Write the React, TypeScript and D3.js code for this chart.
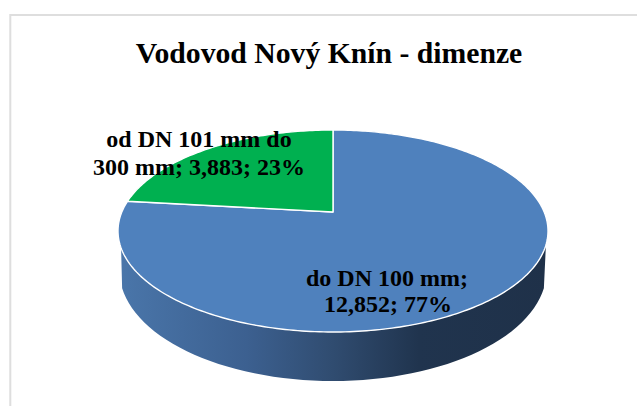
import React from 'react';
import * as d3 from 'd3';

const categories = ['do DN 100 mm', 'od DN 101 mm do 300 mm'];
const values = [12852, 3883];
const valueLabels = ['12,852', '3,883'];
const percentLabels = ['77%', '23%'];
const colors = ['#4f81bd', '#00b050'];
const wallStops = [
  { offset: '0%', color: '#4a76aa' },
  { offset: '30%', color: '#3c6090' },
  { offset: '50%', color: '#304c70' },
  { offset: '70%', color: '#20344e' },
  { offset: '100%', color: '#1f3149' },
];

const width = 637;
const height = 406;
const cx = 333;
const apexY = 212;
const topFar = 82; // far edge above the apex
const topNear = 120; // near edge under the apex
const rx = 215;

// perspective of the tilted disc
const q = (topNear - topFar) / (topNear + topFar);
const ay = topFar * (1 + q);
const bx = rx * Math.sqrt(1 - q * q);
const project = (a: number): [number, number] => {
  const u = Math.sin(a);
  const v = -Math.cos(a);
  const w = 1 - q * v;
  return [cx + (bx * u) / w, apexY + (ay * v) / w];
};

const pie = d3.pie<number>().sort(null);
const arcs = pie(values);
const line = d3.line();

const slicePath = (start: number, end: number) => {
  const n = Math.ceil((end - start) * 60);
  const pts = d3.range(n + 1).map((i) => project(start + ((end - start) * i) / n));
  return line([[cx, apexY], ...pts]) + 'Z';
};

// side wall: from the rim down to a slightly narrower lower ellipse
const wallCy = 271;
const wallRx = 213.5;
const wallRy = 110;
const wallPath = () => {
  const rimStart = 1.895;
  const rimEnd = 4.359;
  const rim = d3.range(61).map((i) => project(rimStart + ((rimEnd - rimStart) * i) / 60));
  const low = d3
    .range(61)
    .map((i): [number, number] => {
      const a = Math.PI * 0.55 + (Math.PI * 0.9 * i) / 60;
      return [cx + wallRx * Math.sin(a), wallCy - wallRy * Math.cos(a)];
    })
    .reverse();
  return line([...rim, ...low]) + 'Z';
};

const App = () => (
  <svg
    width={width}
    height={height}
    style={{ position: 'absolute', left: 0, top: 0 }}
    fontFamily="'Liberation Serif', serif"
    fontWeight="bold"
  >
    <defs>
      <linearGradient id="wall" gradientUnits="userSpaceOnUse" x1={118} x2={548} y1={0} y2={0}>
        {wallStops.map((s) => (
          <stop key={s.offset} offset={s.offset} stopColor={s.color} />
        ))}
      </linearGradient>
    </defs>
    <rect width={width} height={height} fill="#fff" />
    <path d="M10.3 406V15H637" fill="none" stroke="#dedede" strokeWidth={2} />
    <text x={329} y={63} textAnchor="middle" fontSize={29.7}>
      Vodovod Nový Knín - dimenze
    </text>
    <path d={wallPath()} fill="url(#wall)" />
    {arcs.map((d, i) => (
      <path
        key={categories[i]}
        d={slicePath(d.startAngle, d.endAngle)}
        fill={colors[i]}
        stroke="#fff"
        strokeWidth={1.4}
        strokeLinejoin="round"
      />
    ))}
    <g fontSize={24} textAnchor="middle" fill="#000">
      <text x={199} y={147}>od DN 101 mm do</text>
      <text x={199} y={175}>{`300 mm; ${valueLabels[1]}; ${percentLabels[1]}`}</text>
      <text x={387} y={286}>{`${categories[0]};`}</text>
      <text x={388} y={312}>{`${valueLabels[0]}; ${percentLabels[0]}`}</text>
    </g>
  </svg>
);

export default App;
